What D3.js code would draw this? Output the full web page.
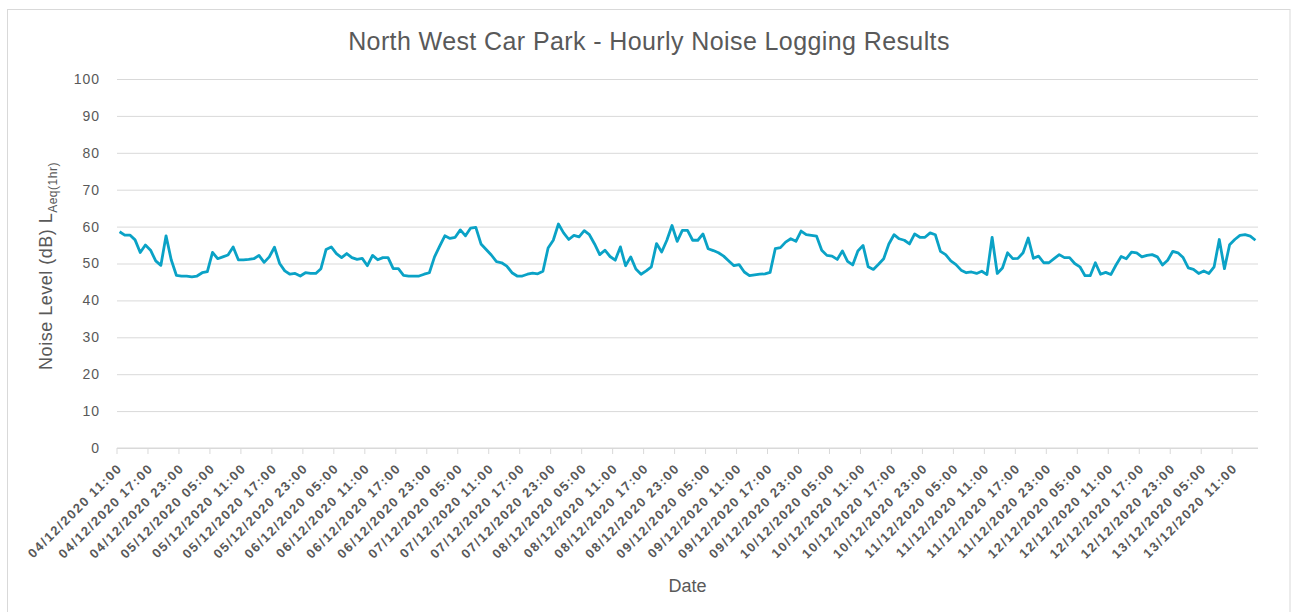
<!DOCTYPE html>
<html>
<head>
	<meta charset="utf-8">
	<script src="https://cdn.jsdelivr.net/npm/d3@7"></script>
</head>

<style type="text/css">
body {
	margin: 0;
	background: #ffffff;
	font-family: "Liberation Sans", Arial, sans-serif;
}
/* the noise line */
.line {
	fill: none;
	stroke: #0aa2c6;
	stroke-width: 2.8;
	stroke-linejoin: round;
}
.grid line {
	stroke: #d9d9d9;
	stroke-width: 1;
}
.txt {
	fill: #595959;
}
</style>

<body>
<div id=NoiseGraph></div>

<script>

// hourly LAeq(1hr) readings, first one at 04/12/2020 11:00
var startTime = "04/12/2020 11:00";
var noiseLevels = [
	58.6, 57.7, 57.7, 56.4, 53.0, 55.0, 53.6, 50.7, 49.5, 57.5,
	51.0, 46.8, 46.6, 46.6, 46.4, 46.6, 47.5, 47.8, 53.0, 51.3,
	51.8, 52.3, 54.5, 51.0, 51.0, 51.1, 51.3, 52.2, 50.3, 51.8,
	54.4, 50.0, 48.0, 47.1, 47.3, 46.6, 47.5, 47.3, 47.3, 48.6,
	53.8, 54.5, 52.7, 51.6, 52.7, 51.6, 51.1, 51.4, 49.4, 52.2,
	51.0, 51.6, 51.6, 48.6, 48.6, 46.8, 46.6, 46.6, 46.6, 47.1,
	47.5, 51.8, 54.7, 57.5, 56.8, 57.1, 59.1, 57.5, 59.6, 59.8,
	55.3, 53.8, 52.3, 50.5, 50.2, 49.3, 47.5, 46.6, 46.6, 47.1,
	47.4, 47.2, 47.9, 54.2, 56.3, 60.7, 58.3, 56.5, 57.6, 57.2,
	58.9, 57.8, 55.3, 52.4, 53.6, 51.9, 50.9, 54.5, 49.4, 51.8,
	48.5, 47.1, 48.0, 49.1, 55.4, 53.1, 56.3, 60.3, 56.0, 59.0,
	59.0, 56.3, 56.3, 58.0, 54.0, 53.5, 52.9, 52.0, 50.7, 49.4,
	49.7, 47.7, 46.7, 46.9, 47.1, 47.2, 47.6, 54.0, 54.3, 55.8,
	56.7, 56.0, 58.8, 57.8, 57.6, 57.4, 53.6, 52.2, 52.0, 51.1,
	53.4, 50.6, 49.6, 53.4, 54.9, 49.1, 48.4, 49.8, 51.3, 55.3,
	57.8, 56.7, 56.3, 55.3, 58.0, 57.1, 57.1, 58.3, 57.8, 53.3,
	52.4, 50.7, 49.7, 48.2, 47.5, 47.7, 47.3, 47.9, 47.0, 57.1,
	47.3, 48.8, 52.9, 51.3, 51.4, 52.9, 56.9, 51.4, 52.0, 50.2,
	50.2, 51.3, 52.4, 51.6, 51.6, 50.0, 49.1, 46.7, 46.7, 50.2,
	47.1, 47.6, 47.0, 49.6, 51.9, 51.3, 53.1, 52.9, 51.8, 52.2,
	52.4, 51.8, 49.6, 50.9, 53.3, 52.9, 51.6, 48.8, 48.4, 47.3,
	48.0, 47.3, 49.1, 56.5, 48.6, 55.1, 56.5, 57.6, 57.8, 57.4,
	56.3
];

// one label every 6 hours
var tickLabels = [
	"04/12/2020 11:00", "04/12/2020 17:00", "04/12/2020 23:00",
	"05/12/2020 05:00", "05/12/2020 11:00", "05/12/2020 17:00", "05/12/2020 23:00",
	"06/12/2020 05:00", "06/12/2020 11:00", "06/12/2020 17:00", "06/12/2020 23:00",
	"07/12/2020 05:00", "07/12/2020 11:00", "07/12/2020 17:00", "07/12/2020 23:00",
	"08/12/2020 05:00", "08/12/2020 11:00", "08/12/2020 17:00", "08/12/2020 23:00",
	"09/12/2020 05:00", "09/12/2020 11:00", "09/12/2020 17:00", "09/12/2020 23:00",
	"10/12/2020 05:00", "10/12/2020 11:00", "10/12/2020 17:00", "10/12/2020 23:00",
	"11/12/2020 05:00", "11/12/2020 11:00", "11/12/2020 17:00", "11/12/2020 23:00",
	"12/12/2020 05:00", "12/12/2020 11:00", "12/12/2020 17:00", "12/12/2020 23:00",
	"13/12/2020 05:00", "13/12/2020 11:00"
];
var tickStep = 6;

var yTicks = [0, 10, 20, 30, 40, 50, 60, 70, 80, 90, 100];

// set the dimensions and margins of the graph
var W = 1293, H = 612;
var margin = {top: 79, right: 35, bottom: 164, left: 117},
	width = W - margin.left - margin.right,
	height = H - margin.top - margin.bottom;

var root = d3.select("#NoiseGraph")
  .append("svg")
	.attr("width", W)
	.attr("height", H);

// chart border (bottom edge runs off the picture)
root.append("rect")
	.attr("x", 7.5).attr("y", 9.5)
	.attr("width", 1282.5).attr("height", 610)
	.attr("fill", "#fff")
	.attr("stroke", "#d9d9d9");

var svg = root.append("g")
	.attr("transform", "translate(" + margin.left + "," + margin.top + ")");

var x = d3.scaleBand()
	.domain(d3.range(noiseLevels.length))
	.range([0, width])
	.padding(0);

var y = d3.scaleLinear()
	.domain([0, 100])
	.range([height, 0]);

// horizontal gridlines + y labels
var yAxis = svg.append("g")
	.attr("class", "grid")
	.call(d3.axisLeft(y).tickValues(yTicks).tickSize(-width).tickPadding(17));
yAxis.select(".domain").remove();
yAxis.selectAll("text")
	.attr("class", "txt")
	.style("font-size", "14px")
	.style("letter-spacing", "1px")
	.style("font-family", "Liberation Sans, Arial, sans-serif");

// bottom axis line with ticks between categories
var tickIdx = tickLabels.map(function(d, i) { return i * tickStep; });
var xAxis = svg.append("g")
	.attr("transform", "translate(0," + height + ")");
xAxis.append("line")
	.attr("x1", 0).attr("x2", width)
	.attr("stroke", "#d9d9d9");
xAxis.selectAll("line.tk")
	.data(tickIdx)
  .enter().append("line")
	.attr("class", "tk")
	.attr("x1", function(d) { return x(d); })
	.attr("x2", function(d) { return x(d); })
	.attr("y1", 0).attr("y2", 6)
	.attr("stroke", "#d9d9d9");
xAxis.selectAll("text.lbl")
	.data(tickLabels)
  .enter().append("text")
	.attr("class", "lbl txt")
	.attr("text-anchor", "end")
	.attr("transform", function(d, i) {
		return "translate(" + (x(tickIdx[i]) + 6) + ",21) rotate(-45)";
	})
	.style("font-size", "13px")
	.style("font-weight", "bold")
	.style("letter-spacing", "1.6px")
	.text(function(d) { return d; });

// the line
svg.append("path")
	.datum(noiseLevels)
	.attr("class", "line")
	.attr("d", d3.line()
		.x(function(d, i) { return x(i) + x.bandwidth() / 2; })
		.y(function(d) { return y(d); }));

// titles
root.append("text")
	.attr("class", "txt")
	.attr("x", 649).attr("y", 50)
	.attr("text-anchor", "middle")
	.style("font-size", "25px")
	.style("letter-spacing", "0.4px")
	.text("North West Car Park - Hourly Noise Logging Results");

root.append("text")
	.attr("class", "txt")
	.attr("x", margin.left + width / 2).attr("y", 592)
	.attr("text-anchor", "middle")
	.style("font-size", "18px")
	.text("Date");

var yTitle = root.append("text")
	.attr("class", "txt")
	.attr("transform", "translate(52,266) rotate(-90)")
	.attr("text-anchor", "middle")
	.style("font-size", "18px")
	.style("letter-spacing", "0.5px");
yTitle.append("tspan").text("Noise Level (dB) L");
yTitle.append("tspan")
	.attr("dy", 5)
	.style("font-size", "12px")
	.text("Aeq(1hr)");

</script>
</body>
</html>
